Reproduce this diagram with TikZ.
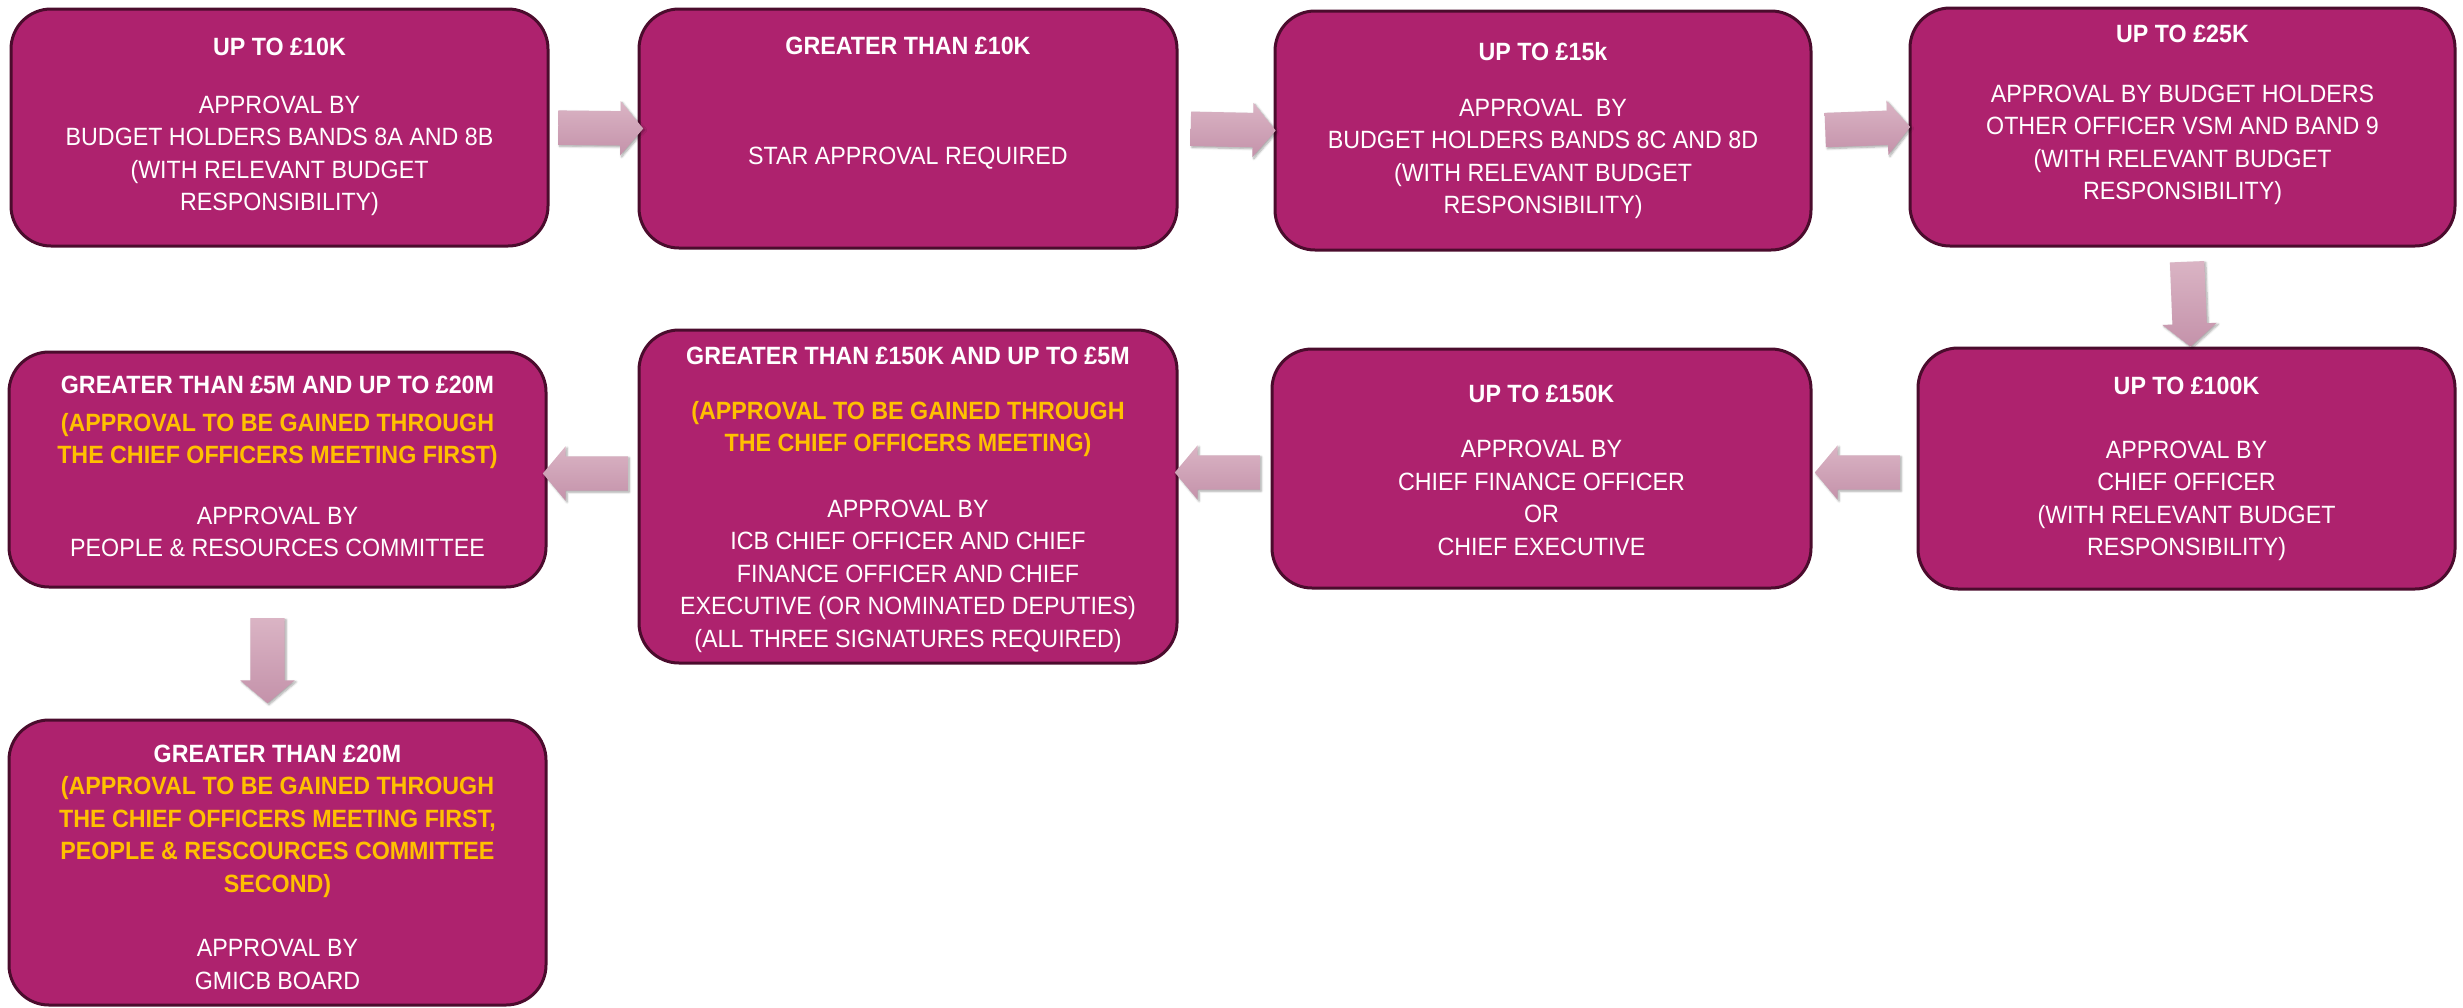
\documentclass[tikz,border=0pt]{standalone}
\usepackage{fontspec}
\setmainfont{Liberation Sans}[FakeStretch=0.93]
\usetikzlibrary{shapes.arrows,shadows.blur}

\definecolor{boxfill}{RGB}{174,34,110}
\definecolor{boxedge}{RGB}{75,12,45}
\definecolor{amber}{RGB}{255,192,0}
\definecolor{arrowlight}{RGB}{218,180,196}
\definecolor{arrowdark}{RGB}{196,146,170}

\tikzset{
  stage/.style={draw=boxedge, line width=3pt, fill=boxfill,
    rounded corners=40pt, inner sep=0pt},
  stagetext/.style={align=center, text=white, inner sep=0pt,
    font=\fontsize{25}{32.5}\selectfont},
  flow/.style={single arrow, draw=none, minimum height=85pt,
    inner xsep=0pt, inner ysep=17pt, single arrow head extend=10pt,
    single arrow tip angle=100,
    top color=arrowlight, bottom color=arrowdark,
    sloped, allow upside down,
    blur shadow={shadow xshift=1.5pt, shadow yshift=-1.5pt,
      shadow blur steps=6, shadow opacity=35}},
}
\newcommand{\hi}[1]{\textcolor{amber}{\textbf{#1}}}

\begin{document}
\begin{tikzpicture}[x=1pt, y=-1pt]
\useasboundingbox (0,0) rectangle (2463,1007);

% ---- stage boxes ----
\node[stage, minimum width=537pt, minimum height=237pt] (A) at (279.5,127.5) {};
\node[stage, minimum width=538pt, minimum height=239pt] (B) at (908,128.5) {};
\node[stage, minimum width=536pt, minimum height=239pt] (C) at (1543,130.5) {};
\node[stage, minimum width=545pt, minimum height=238pt] (D) at (2182.5,127) {};
\node[stage, minimum width=537pt, minimum height=241pt] (E) at (2186.5,468.5) {};
\node[stage, minimum width=539pt, minimum height=239pt] (F) at (1541.5,468.5) {};
\node[stage, minimum width=538pt, minimum height=333pt] (G) at (908,496.5) {};
\node[stage, minimum width=537pt, minimum height=235pt] (H) at (277.5,469.5) {};
\node[stage, minimum width=537pt, minimum height=285pt] (I) at (277.5,862.5) {};

% ---- texts ----
\node[stagetext] (At) at (279.5,127) {\textbf{UP TO £10K}\\[25pt]
  APPROVAL BY\\ BUDGET HOLDERS BANDS 8A AND 8B\\
  (WITH RELEVANT BUDGET\\ RESPONSIBILITY)};
\node[stagetext] (Bt) at (908,103) {\textbf{GREATER THAN £10K}\\[78pt]
  STAR APPROVAL REQUIRED};
\node[stagetext] (Ct) at (1543,131) {\textbf{UP TO £15k}\\[23pt]
  APPROVAL\ \ BY\\ BUDGET HOLDERS BANDS 8C AND 8D\\
  (WITH RELEVANT BUDGET\\ RESPONSIBILITY)};
\node[stagetext] (Dt) at (2182.5,115) {\textbf{UP TO £25K}\\[27pt]
  APPROVAL BY BUDGET HOLDERS\\ OTHER OFFICER VSM AND BAND 9\\
  (WITH RELEVANT BUDGET\\ RESPONSIBILITY)};
\node[stagetext] (Et) at (2186.5,469) {\textbf{UP TO £100K}\\[31pt]
  APPROVAL BY\\ CHIEF OFFICER\\
  (WITH RELEVANT BUDGET\\ RESPONSIBILITY)};
\node[stagetext] (Ft) at (1541.5,470) {\textbf{UP TO £150K}\\[23pt]
  APPROVAL BY\\ CHIEF FINANCE OFFICER\\ OR\\ CHIEF EXECUTIVE};
\node[stagetext] (Gt) at (908,500) {\textbf{GREATER THAN £150K AND UP TO £5M}\\[22pt]
  \hi{(APPROVAL TO BE GAINED THROUGH}\\ \hi{THE CHIEF OFFICERS MEETING)}\\[33pt]
  APPROVAL BY\\ ICB CHIEF OFFICER AND CHIEF\\ FINANCE OFFICER AND CHIEF\\
  EXECUTIVE (OR NOMINATED DEPUTIES)\\ (ALL THREE SIGNATURES REQUIRED)};
\node[stagetext] (Ht) at (277.5,466.5) {\textbf{GREATER THAN £5M AND UP TO £20M}\\[5pt]
  \hi{(APPROVAL TO BE GAINED THROUGH}\\ \hi{THE CHIEF OFFICERS MEETING FIRST)}\\[28pt]
  APPROVAL BY\\ PEOPLE \& RESOURCES COMMITTEE};
\node[stagetext] (It) at (277.5,867) {\textbf{GREATER THAN £20M}\\
  \hi{(APPROVAL TO BE GAINED THROUGH}\\ \hi{THE CHIEF OFFICERS MEETING FIRST,}\\
  \hi{PEOPLE \& RESCOURCES COMMITTEE}\\ \hi{SECOND)}\\[32pt]
  APPROVAL BY\\ GMICB BOARD};

% ---- block arrows between stages ----
\path (A.east) -- (B.west) node[flow, midway] (ab) {};
\path (B.east) -- (C.west) node[flow, midway] (bc) {};
\path (C.east) -- (D.west) node[flow, midway] (cd) {};
\path ([xshift=4pt]D.south) -- ([xshift=4pt]E.north) node[flow, midway] (de) {};
\path ([yshift=-4pt]E.west) -- ([yshift=-4pt]E.west -| F.east) node[flow, midway] (ef) {};
\path ([yshift=-4pt]F.west) -- ([yshift=-4pt]F.west -| G.east) node[flow, midway] (fg) {};
\path ([yshift=-4pt]G.west |- H.east) -- ([yshift=-4pt]H.east) node[flow, midway] (gh) {};
\path ([xshift=-10pt]H.south) -- ([xshift=-10pt]H.south |- I.north) node[flow, midway] (hi) {};
\end{tikzpicture}
\end{document}
